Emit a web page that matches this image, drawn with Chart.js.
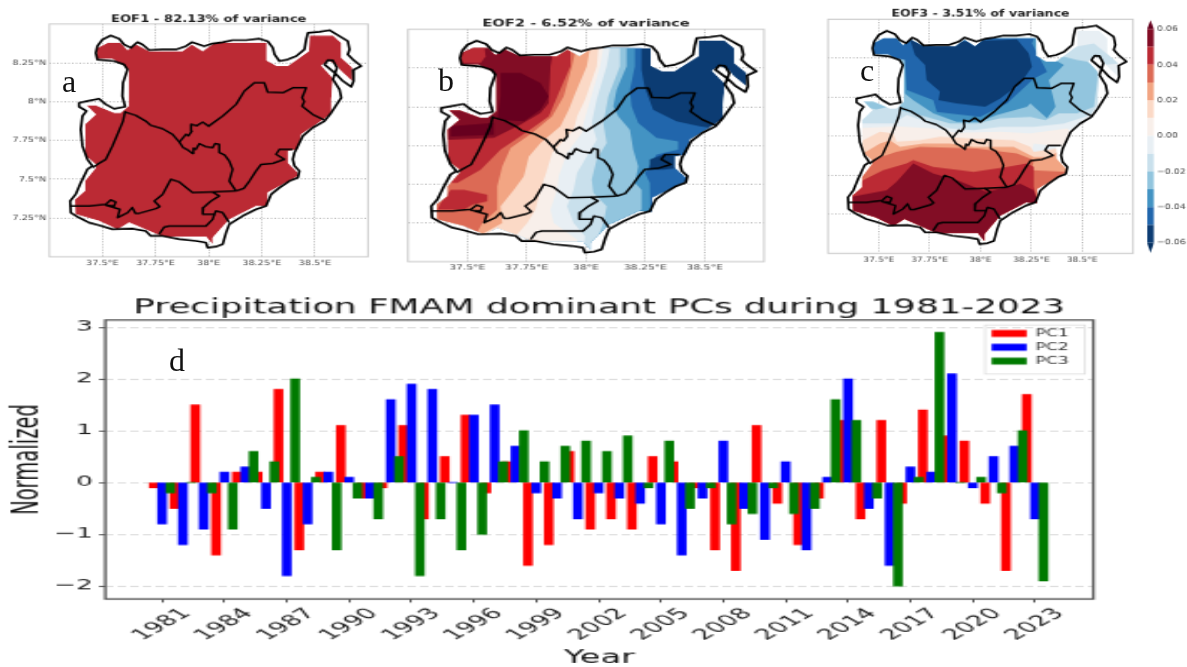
<!DOCTYPE html>
<html>
<head>
<meta charset="utf-8">
<title>EOF maps and PCs</title>
<script src="https://cdn.jsdelivr.net/npm/chart.js@4"></script>
<style>
  html, body { margin: 0; padding: 0; background: #fff; width: 1187px; height: 667px; overflow: hidden; }
  canvas { position: absolute; transform-origin: 0 0; filter: blur(0.3px); }
  .tag { position: absolute; font-family: "Liberation Serif", serif; font-size: 32px; line-height: 32px; color: #111; }
</style>
</head>
<body>
<canvas id="mapA"></canvas>
<canvas id="mapB"></canvas>
<canvas id="mapC"></canvas>
<canvas id="cbar"></canvas>
<canvas id="pcs"></canvas>
<div class="tag" style="left:62px;top:65px">a</div>
<div class="tag" style="left:438px;top:64px">b</div>
<div class="tag" style="left:860px;top:54px">c</div>
<div class="tag" style="left:169px;top:344px">d</div>
<script>
// PC time series
const years = [1981, 1982, 1983, 1984, 1985, 1986, 1987, 1988, 1989, 1990, 1991, 1992, 1993, 1994, 1995, 1996, 1997, 1998, 1999, 2000, 2001, 2002, 2003, 2004, 2005, 2006, 2007, 2008, 2009, 2010, 2011, 2012, 2013, 2014, 2015, 2016, 2017, 2018, 2019, 2020, 2021, 2022, 2023];
const pc1 = [-0.1, -0.5, 1.5, -1.4, 0.2, 0.2, 1.8, -1.3, 0.2, 1.1, -0.3, -0.1, 1.1, -0.7, 0.5, 1.3, -0.2, 0.4, -1.6, -1.2, 0.6, -0.9, -0.7, -0.9, 0.5, 0.4, -0.1, -1.3, -1.7, 1.1, -0.4, -1.2, -0.3, 1.2, -0.7, 1.2, -0.4, 1.4, 0.9, 0.8, -0.4, -1.7, 1.7];
const pc2 = [-0.8, -1.2, -0.9, 0.2, 0.3, -0.5, -1.8, -0.8, 0.2, 0.1, -0.3, 1.6, 1.9, 1.8, 0, 1.3, 1.5, 0.7, -0.2, -0.3, -0.7, -0.2, -0.3, -0.4, -0.8, -1.4, -0.3, 0.8, -0.5, -1.1, 0.4, -1.3, 0.1, 2.0, -0.5, -1.6, 0.3, 0.2, 2.1, -0.1, 0.5, 0.7, -0.7];
const pc3 = [-0.2, 0, -0.2, -0.9, 0.6, 0.4, 2.0, 0.1, -1.3, -0.3, -0.7, 0.5, -1.8, -0.7, -1.3, -1.0, 0.4, 1.0, 0.4, 0.7, 0.8, 0.6, 0.9, -0.1, 0.8, -0.5, -0.1, -0.8, -0.6, -0.1, -0.6, -0.5, 1.6, 1.2, -0.3, -2.0, 0.1, 2.9, 0, 0.1, -0.2, 1.0, -1.9];
const pcLabels = ["PC1", "PC2", "PC3"];
const pcColors = ["#ff0000", "#0000ff", "#007a00"];
const yearTicks = [1981, 1984, 1987, 1990, 1993, 1996, 1999, 2002, 2005, 2008, 2011, 2014, 2017, 2020, 2023];
const pcTicks = [-2, -1, 0, 1, 2, 3];

// map axes
const lonTicks = [37.5, 37.75, 38, 38.25, 38.5];
const latTicks = [7.25, 7.5, 7.75, 8, 8.25];

// colour bar
const cbarLevels = [-0.06, -0.05, -0.04, -0.03, -0.02, -0.01, 0, 0.01, 0.02, 0.03, 0.04, 0.05, 0.06];
const cbarTicks = [-0.06, -0.04, -0.02, 0, 0.02, 0.04, 0.06];
const bandColors = ["#0c3c73", "#2166ac", "#4393c3", "#92c5de", "#c9e0ec", "#e8eff4", "#f8efea", "#fbd9c6", "#f2a583", "#dc6a55", "#bb2a34", "#820d25"];
const deepRed = "#67001f";

// study area outline, lon/lat
const outline = [[37.476,8.357],[37.5,8.4],[37.539,8.426],[37.579,8.405],[37.602,8.368],[37.634,8.347],[37.665,8.383],[37.689,8.368],[37.72,8.332],[37.783,8.336],[37.846,8.336],[37.893,8.357],[37.921,8.383],[37.956,8.368],[37.979,8.357],[38.019,8.374],[38.066,8.383],[38.113,8.396],[38.176,8.396],[38.239,8.405],[38.278,8.389],[38.302,8.347],[38.31,8.304],[38.333,8.261],[38.372,8.271],[38.412,8.293],[38.451,8.336],[38.459,8.4],[38.467,8.443],[38.522,8.45],[38.569,8.46],[38.616,8.422],[38.655,8.389],[38.663,8.336],[38.655,8.304],[38.679,8.271],[38.718,8.229],[38.679,8.203],[38.682,8.132],[38.671,8.095],[38.632,8.132],[38.593,8.186],[38.545,8.239],[38.561,8.267],[38.585,8.265],[38.604,8.218],[38.585,8.143],[38.616,8.078],[38.624,8.025],[38.608,7.992],[38.577,7.928],[38.545,7.874],[38.49,7.832],[38.443,7.778],[38.42,7.714],[38.404,7.671],[38.396,7.628],[38.404,7.585],[38.427,7.553],[38.42,7.51],[38.38,7.488],[38.333,7.445],[38.294,7.402],[38.27,7.327],[38.223,7.306],[38.16,7.263],[38.097,7.209],[38.082,7.156],[38.066,7.08],[38.034,7.065],[37.995,7.059],[37.987,7.091],[37.94,7.102],[37.862,7.113],[37.783,7.134],[37.728,7.134],[37.704,7.166],[37.641,7.181],[37.547,7.177],[37.484,7.203],[37.437,7.22],[37.39,7.252],[37.351,7.284],[37.348,7.359],[37.374,7.402],[37.398,7.477],[37.429,7.563],[37.453,7.585],[37.429,7.628],[37.406,7.714],[37.398,7.821],[37.406,7.907],[37.425,7.939],[37.39,7.967],[37.39,7.992],[37.429,8.003],[37.484,8.018],[37.516,7.982],[37.555,7.954],[37.607,7.967],[37.594,8.035],[37.597,8.121],[37.618,8.207],[37.602,8.239],[37.555,8.261],[37.476,8.271],[37.469,8.314],[37.476,8.357]];

// area with data (contourf mask)
const dataMask = [[37.476,8.347],[37.524,8.379],[37.586,8.379],[37.618,8.332],[37.66,8.368],[37.72,8.325],[37.877,8.325],[37.921,8.368],[37.972,8.325],[38.027,8.379],[38.273,8.379],[38.273,8.265],[38.321,8.229],[38.372,8.229],[38.472,8.325],[38.475,8.426],[38.585,8.426],[38.624,8.379],[38.624,8.282],[38.676,8.218],[38.676,8.132],[38.619,8.203],[38.6,8.239],[38.561,8.265],[38.53,8.233],[38.585,8.149],[38.577,8.014],[38.577,7.928],[38.545,7.889],[38.436,7.789],[38.42,7.692],[38.373,7.681],[38.373,7.606],[38.42,7.542],[38.42,7.52],[38.278,7.413],[38.278,7.323],[38.223,7.327],[38.097,7.241],[38.019,7.123],[38.019,7.08],[37.987,7.13],[37.783,7.13],[37.626,7.22],[37.571,7.177],[37.484,7.231],[37.374,7.274],[37.371,7.37],[37.418,7.424],[37.418,7.488],[37.469,7.574],[37.469,7.595],[37.421,7.649],[37.418,7.853],[37.469,7.917],[37.425,7.975],[37.469,7.975],[37.555,7.928],[37.586,7.928],[37.623,7.971],[37.623,8.207],[37.594,8.239],[37.547,8.276],[37.476,8.276]];

// district borders
const borderWest = [[37.607,7.939],[37.597,7.874],[37.571,7.789],[37.547,7.714],[37.516,7.628],[37.476,7.595],[37.453,7.574]];
const borderCentre = [[37.607,7.932],[37.657,7.911],[37.704,7.874],[37.728,7.847],[37.783,7.825],[37.83,7.789],[37.862,7.739],[37.88,7.703],[37.9,7.69],[37.924,7.666],[37.928,7.7],[37.94,7.692],[37.956,7.729],[37.985,7.71],[38.019,7.703],[38.03,7.73],[38.05,7.724],[38.05,7.671],[38.075,7.655],[38.097,7.617],[38.113,7.563],[38.097,7.488],[38.129,7.424]];
const borderNorth = [[37.862,7.739],[37.893,7.789],[37.905,7.78],[37.921,7.81],[37.917,7.853],[37.945,7.845],[37.972,7.868],[38,7.842],[38.066,7.907],[38.129,7.982],[38.168,8.068],[38.215,8.121],[38.262,8.121],[38.278,8.061],[38.349,8.057],[38.396,8.089],[38.459,8.089],[38.44,8.025],[38.45,8.0],[38.44,7.971],[38.49,7.917],[38.545,7.881]];
const borderEast = [[38.129,7.424],[38.165,7.44],[38.192,7.488],[38.223,7.553],[38.247,7.595],[38.302,7.602],[38.357,7.628],[38.317,7.66],[38.333,7.692],[38.396,7.692]];
const borderSouth = [[37.348,7.327],[37.437,7.327],[37.516,7.338],[37.539,7.366],[37.563,7.353],[37.555,7.327],[37.516,7.332],[37.582,7.306],[37.571,7.252],[37.618,7.284],[37.641,7.317],[37.655,7.28],[37.673,7.28],[37.752,7.31],[37.77,7.323],[37.744,7.359],[37.783,7.402],[37.822,7.499],[37.862,7.482],[37.924,7.413],[38.019,7.417],[38.129,7.424]];
const borderSouthEast = [[38.019,7.417],[38.05,7.392],[38.011,7.359],[37.975,7.317],[37.972,7.274],[38.027,7.274],[38.034,7.295],[38.066,7.284],[38.097,7.22]];
const borderLower = [[37.767,7.145],[37.79,7.19],[37.814,7.198],[37.909,7.198],[37.987,7.198],[38.019,7.241],[38.027,7.274]];
const allBorders = [borderWest, borderCentre, borderNorth, borderEast, borderSouth, borderSouthEast, borderLower];

// EOF2 contour lines, north to south; each one is filled towards the west
const eof2N05 = [[38.234,8.5],[38.234,8.239],[38.248,8.121],[38.283,7.981],[38.381,7.906],[38.479,7.874],[38.633,7.842],[38.633,7.0]];
const eof2N04 = [[38.206,8.5],[38.206,8.261],[38.185,8.11],[38.192,8.003],[38.22,7.895],[38.297,7.799],[38.388,7.777],[38.388,7.723],[38.297,7.691],[38.248,7.573],[38.269,7.508],[38.272,7.293],[38.272,7.0]];
const eof2N03 = [[38.171,8.5],[38.171,8.261],[38.129,8.11],[38.115,8.003],[38.136,7.938],[38.185,7.852],[38.199,7.723],[38.22,7.616],[38.206,7.508],[38.234,7.465],[38.234,7.336],[38.143,7.25],[38.101,7.207],[38.073,7.143],[38.073,7.0]];
const eof2N02 = [[38.143,8.5],[38.143,8.261],[38.094,8.067],[38.073,7.895],[38.087,7.766],[38.045,7.659],[38.024,7.53],[38.031,7.444],[38.087,7.358],[38.073,7.25],[38.045,7.143],[38.045,7.0]];
const eof2N01 = [[38.115,8.5],[38.087,8.261],[38.045,8.046],[38.024,7.895],[38.045,7.788],[38.003,7.68],[37.962,7.573],[37.948,7.465],[37.92,7.358],[37.948,7.25],[37.996,7.164],[37.983,7.0]];
const eof2P00 = [[38.087,8.5],[38.059,8.261],[38.01,8.003],[37.99,7.895],[37.983,7.831],[37.92,7.702],[37.885,7.551],[37.878,7.465],[37.85,7.336],[37.864,7.25],[37.962,7.143],[37.976,7.0]];
const eof2P01 = [[38.059,8.5],[38.045,8.261],[37.996,8.046],[37.962,7.938],[37.948,7.852],[37.857,7.702],[37.836,7.594],[37.808,7.465],[37.787,7.336],[37.752,7.25],[37.703,7.164],[37.85,7.121],[37.85,7.0]];
const eof2P02 = [[38.031,8.5],[38.003,8.261],[37.955,8.089],[37.927,7.981],[37.892,7.874],[37.808,7.766],[37.759,7.68],[37.738,7.551],[37.696,7.465],[37.64,7.358],[37.647,7.25],[37.57,7.186],[37.5,7.0]];
const eof2P03 = [[37.976,8.5],[37.941,8.261],[37.906,8.067],[37.857,7.938],[37.773,7.831],[37.682,7.734],[37.647,7.616],[37.626,7.487],[37.626,7.336],[37.563,7.25],[37.472,7.0]];
const eof2P04 = [[37.934,8.5],[37.934,8.261],[37.885,8.089],[37.843,7.938],[37.745,7.831],[37.64,7.723],[37.556,7.594],[37.458,7.508],[37.36,7.508]];
const eof2P05 = [[37.878,8.5],[37.85,8.261],[37.843,8.024],[37.808,7.96],[37.724,7.885],[37.612,7.799],[37.43,7.788],[37.36,7.788]];
const eof2SouthWest = [[37.43,7.465],[37.486,7.465],[37.584,7.433],[37.584,7.39],[37.521,7.369],[37.486,7.336],[37.374,7.336],[37.388,7.379]];
const eof2NorthWest = [[37.472,8.411],[37.57,8.411],[37.577,8.325],[37.556,8.282],[37.472,8.282]];
const eof2Deep = [[37.64,8.218],[37.724,8.218],[37.808,8.153],[37.843,8.067],[37.808,7.981],[37.738,7.906],[37.626,7.917],[37.64,8.067]];
const eof2DeepWest = [[37.43,7.874],[37.612,7.895],[37.612,7.82],[37.43,7.809]];
const eof2Spot = [[38.269,7.659],[38.325,7.691],[38.388,7.68],[38.388,7.605],[38.325,7.594],[38.269,7.594]];

// EOF3 contours: blue lobes from the north, red ones from the south
const eof3N01 = [[37.373,7.832],[37.571,7.832],[37.637,7.886],[37.735,7.843],[37.85,7.8],[37.966,7.79],[38.097,7.811],[38.262,7.811],[38.41,7.832],[38.541,7.886],[38.599,8.004],[38.632,8.132],[38.599,8.207],[38.689,8.218],[38.64,8.261],[38.558,8.346],[38.475,8.325],[38.36,8.271],[38.262,8.411],[37.464,8.411],[37.464,8.196],[37.604,8.196],[37.604,7.982],[37.373,7.982]];
const eof3N02 = [[37.604,7.982],[37.604,7.918],[37.735,7.875],[37.85,7.832],[37.982,7.832],[38.097,7.865],[38.245,7.875],[38.319,7.854],[38.385,7.897],[38.475,7.897],[38.558,7.94],[38.574,8.111],[38.574,8.175],[38.525,8.229],[38.475,8.239],[38.41,8.261],[38.311,8.239],[38.262,8.411],[37.604,8.411]];
const eof3N02West = [[37.423,7.972],[37.488,7.972],[37.546,7.94],[37.488,7.922],[37.423,7.94]];
const eof3N03 = [[37.464,8.411],[37.464,8.271],[37.628,8.25],[37.628,8.025],[37.669,7.982],[37.768,7.897],[37.883,7.843],[37.99,7.843],[38.081,7.886],[38.229,7.94],[38.245,7.961],[38.327,7.865],[38.369,7.94],[38.336,8.111],[38.41,8.207],[38.336,8.261],[38.262,8.411]];
const eof3N04 = [[37.464,8.378],[37.472,8.282],[37.628,8.239],[37.637,8.047],[37.768,7.982],[37.785,7.907],[37.998,7.875],[38.13,7.961],[38.262,8.12],[38.327,8.164],[38.253,8.346],[38.262,8.378]];
const eof3N05 = [[37.653,8.372],[37.727,8.325],[37.916,8.357],[38.179,8.372],[38.237,8.282],[38.253,8.196],[38.196,8.089],[38.097,7.993],[38.023,7.94],[37.883,7.961],[37.793,7.982],[37.801,8.036],[37.735,8.111],[37.727,8.207],[37.678,8.271]];
const eof3P00 = [[37.357,7.8],[37.587,7.815],[37.768,7.8],[37.883,7.773],[38.097,7.779],[38.245,7.768],[38.426,7.8],[38.459,7.768],[38.41,7.683],[38.262,7.704],[38.245,7.618],[38.426,7.661],[38.508,7.0],[37.275,7.0]];
const eof3P01 = [[37.275,7.725],[37.423,7.725],[37.505,7.779],[37.571,7.768],[37.587,7.715],[37.702,7.725],[37.801,7.747],[37.966,7.736],[38.163,7.725],[38.245,7.683],[38.262,7.651],[38.377,7.672],[38.426,7.618],[38.508,7.0],[37.275,7.0]];
const eof3P02 = [[37.275,7.64],[37.423,7.64],[37.505,7.704],[37.554,7.725],[37.604,7.683],[37.719,7.704],[37.85,7.704],[37.966,7.683],[38.163,7.683],[38.262,7.618],[38.336,7.618],[38.393,7.661],[38.426,7.554],[38.508,7.0],[37.275,7.0]];
const eof3P03 = [[37.275,7.597],[37.464,7.597],[37.587,7.651],[37.702,7.683],[37.982,7.672],[38.179,7.64],[38.262,7.597],[38.253,7.533],[38.426,7.522],[38.508,7.0],[37.275,7.0]];
const eof3P04 = [[37.357,7.372],[37.423,7.469],[37.521,7.533],[37.637,7.576],[37.669,7.597],[37.768,7.554],[37.966,7.522],[38.13,7.554],[38.229,7.576],[38.262,7.554],[38.262,7.426],[38.278,7.34],[38.278,7.0],[37.357,7.0]];
const eof3P05 = [[37.357,7.361],[37.538,7.404],[37.587,7.458],[37.669,7.576],[37.768,7.511],[37.883,7.469],[38.031,7.394],[38.196,7.447],[38.262,7.404],[38.278,7.34],[38.278,7.0],[37.357,7.0]];

const lonRange = [37.25, 38.75];
const latRange = [7.0, 8.5];
const westClose = [[37.2, 7.0], [37.2, 8.5]];

// contour fills are clipped to the data mask; this has to run before the filler plugin
const maskClip = {
    id: "maskClip",
    beforeDatasetDraw(chart, args) {
        if (!chart.data.datasets[args.index].masked) {
            return;
        }
        const { ctx, scales } = chart;
        ctx.save();
        ctx.beginPath();
        dataMask.forEach(([lon, lat], i) => {
            const px = scales.x.getPixelForValue(lon);
            const py = scales.y.getPixelForValue(lat);
            if (i === 0) {
                ctx.moveTo(px, py);
            } else {
                ctx.lineTo(px, py);
            }
        });
        ctx.closePath();
        ctx.clip();
    },
    afterDatasetDraw(chart, args) {
        if (chart.data.datasets[args.index].masked) {
            chart.ctx.restore();
        }
    },
};
const framePlugin = {
    id: "frame",
    afterDatasetsDraw(chart, args, options) {
        if (!options.color) {
            return;
        }
        const { ctx, chartArea } = chart;
        ctx.save();
        ctx.strokeStyle = options.color;
        ctx.lineWidth = options.width;
        ctx.strokeRect(chartArea.left, chartArea.top, chartArea.right - chartArea.left, chartArea.bottom - chartArea.top);
        ctx.restore();
    },
};
const filler = Chart.registry.getPlugin("filler");
Chart.unregister(filler);
Chart.register(maskClip, filler, framePlugin);
Chart.defaults.animation = false;
Chart.defaults.font.family = '"DejaVu Sans", sans-serif';

// place a canvas so that its chart area lands on a box of the page, stretched like the original figure
function placeCanvas(id, box) {
    const el = document.getElementById(id);
    el.width = Math.round(box.w / box.fx);
    el.height = Math.round(box.h / box.fy);
    el.style.left = box.x + "px";
    el.style.top = box.y + "px";
    el.style.transform = `scale(${box.fx}, ${box.fy})`;
    const area = box.area;
    return {
        el,
        left: (area.l - box.x) / box.fx,
        right: el.width - (area.r - box.x) / box.fx,
        top: (area.t - box.y) / box.fy,
        bottom: el.height - (area.b - box.y) / box.fy,
    };
}

function toPoints(list) {
    return list.map(([x, y]) => ({ x, y }));
}

function polygon(list, color) {
    return { data: toPoints(list), showLine: true, pointRadius: 0, borderWidth: 0, backgroundColor: color, fill: "shape", masked: true };
}

function polyline(list, width) {
    return { data: toPoints(list), showLine: true, pointRadius: 0, borderWidth: width, borderColor: "#000", backgroundColor: "#000", fill: false, borderJoinStyle: "round" };
}

function drawMap(id, box, titleText, titleCenter, showLat, fields) {
    const place = placeCanvas(id, box);
    const titleSize = 8.8;
    const titlePadTop = (titleCenter - box.y) / box.fy - titleSize / 2;
    const datasets = fields
        .concat(allBorders.map((line) => polyline(line, 1.5)))
        .concat([polyline(outline, 1.7)]);
    datasets.forEach((ds, i) => {
        ds.order = datasets.length - i;
    });
    return new Chart(place.el, {
        type: "scatter",
        data: { datasets },
        options: {
            responsive: false,
            layout: { autoPadding: false, padding: { left: 0, right: place.right, top: 0, bottom: 0 } },
            plugins: {
                legend: { display: false },
                tooltip: { enabled: false },
                frame: { color: "#c8c8c8", width: 1 },
                title: {
                    display: true,
                    text: titleText,
                    fullSize: false,
                    color: "#222",
                    font: { size: titleSize, weight: "bold", lineHeight: 1 },
                    padding: { top: titlePadTop, bottom: place.top - titlePadTop - titleSize },
                },
            },
            scales: {
                x: {
                    type: "linear",
                    min: lonRange[0],
                    max: lonRange[1],
                    afterFit: (scale) => { scale.height = place.bottom; },
                    afterBuildTicks: (scale) => { scale.ticks = lonTicks.map((value) => ({ value })); },
                    grid: { color: "#b4b4b4", drawTicks: false },
                    border: { display: false, dash: [1, 1.5] },
                    ticks: { autoSkip: false, maxRotation: 0, minRotation: 0, padding: 2, color: "#444", font: { size: 6.5 }, callback: (v) => `${v}°E` },
                },
                y: {
                    type: "linear",
                    min: latRange[0],
                    max: latRange[1],
                    afterFit: (scale) => { scale.width = place.left; },
                    afterBuildTicks: (scale) => { scale.ticks = latTicks.map((value) => ({ value })); },
                    grid: { color: "#b4b4b4", drawTicks: false },
                    border: { display: false, dash: [1, 1.5] },
                    ticks: { display: showLat, padding: 2, color: "#444", font: { size: 6.5 }, callback: (v) => `${v}°N` },
                },
            },
        },
    });
}

function drawColorbar(box) {
    const place = placeCanvas("cbar", box);
    const datasets = bandColors.map((color, i) => ({
        data: toPoints([[0, cbarLevels[i]], [1, cbarLevels[i]], [1, cbarLevels[i + 1]], [0, cbarLevels[i + 1]]]),
        showLine: true, pointRadius: 0, borderWidth: 0, backgroundColor: color, fill: "shape",
    }));
    datasets.push({ data: toPoints([[0, 0.06], [1, 0.06], [0.5, 0.0651]]), showLine: true, pointRadius: 0, borderWidth: 0, backgroundColor: deepRed, fill: "shape" });
    datasets.push({ data: toPoints([[0, -0.06], [1, -0.06], [0.5, -0.0658]]), showLine: true, pointRadius: 0, borderWidth: 0, backgroundColor: "#053061", fill: "shape" });
    return new Chart(place.el, {
        type: "scatter",
        data: { datasets },
        options: {
            responsive: false,
            layout: { autoPadding: false, padding: { left: place.left, right: 0, top: place.top, bottom: place.bottom } },
            plugins: { legend: { display: false }, tooltip: { enabled: false } },
            scales: {
                x: { type: "linear", min: 0, max: 1, display: false },
                y: {
                    type: "linear",
                    position: "right",
                    min: -0.0658,
                    max: 0.0651,
                    afterFit: (scale) => { scale.width = place.right; },
                    afterBuildTicks: (scale) => { scale.ticks = cbarTicks.map((value) => ({ value })); },
                    grid: { display: false, drawTicks: false },
                    border: { display: false },
                    ticks: {
                        padding: 2,
                        color: "#444",
                        font: { size: 6.6 },
                        callback: (v) => v.toFixed(2).replace("-", "\u2212"),
                    },
                },
            },
        },
    });
}

function drawPcs(box) {
    const place = placeCanvas("pcs", box);
    const offsets = [-0.4, 0, 0.4];
    const titleSize = 17;
    const titlePadTop = (308 - box.y) / box.fy - titleSize / 2;
    const legendPlace = {
        id: "legendPlace",
        afterLayout(chart) {
            const legend = chart.legend;
            legend.left = (992 - box.x) / box.fx - 4;
            legend.top = (329 - box.y) / box.fy - 4;
            legend.right = legend.left + 48;
            legend.bottom = legend.top + 50;
        },
        beforeDatasetsDraw(chart) {
            const { ctx } = chart;
            ctx.save();
            ctx.strokeStyle = "#ddd";
            ctx.lineWidth = 0.8;
            ctx.strokeRect((985 - box.x) / box.fx, (325 - box.y) / box.fy, 100 / box.fx, 49 / box.fy);
            ctx.restore();
        },
    };
    return new Chart(place.el, {
        type: "bar",
        data: {
            datasets: [pc1, pc2, pc3].map((values, i) => ({
                label: pcLabels[i],
                data: values.map((y, j) => ({ x: years[j] + offsets[i], y })),
                backgroundColor: pcColors[i],
                barThickness: 3.96,
                grouped: false,
                order: 3 - i,
            })),
        },
        plugins: [legendPlace],
        options: {
            responsive: false,
            layout: { autoPadding: false, padding: { left: 0, right: place.right, top: 0, bottom: 0 } },
            plugins: {
                tooltip: { enabled: false },
                frame: { color: "#555", width: 1.3 },
                title: {
                    display: true,
                    text: "Precipitation FMAM dominant PCs during 1981-2023",
                    fullSize: false,
                    color: "#111",
                    font: { size: titleSize, weight: "normal", lineHeight: 1 },
                    padding: { top: titlePadTop, bottom: place.top - titlePadTop - titleSize },
                },
                legend: {
                    position: "chartArea",
                    align: "start",
                    fullSize: false,
                    labels: {
                        boxWidth: 16.7,
                        boxHeight: 6,
                        padding: 3.8,
                        color: "#333",
                        font: { size: 8.2 },
                        sort: (a, b) => a.datasetIndex - b.datasetIndex,
                    },
                },
            },
            scales: {
                x: {
                    type: "linear",
                    offset: false,
                    min: 1978.27,
                    max: 2025.8,
                    afterFit: (scale) => { scale.height = place.bottom; },
                    afterBuildTicks: (scale) => { scale.ticks = yearTicks.map((value) => ({ value })); },
                    grid: { offset: false, drawOnChartArea: false, drawTicks: true, tickLength: 3, tickColor: "#555" },
                    border: { display: false },
                    title: { display: true, text: "Year", color: "#111", font: { size: 16, lineHeight: 1 }, padding: { top: 0, bottom: (box.y + box.h - 658) / box.fy - 8 } },
                    ticks: {
                        autoSkip: false,
                        minRotation: 45,
                        maxRotation: 45,
                        labelOffset: 11.7,
                        padding: 2,
                        color: "#222",
                        font: { size: 13 },
                        callback: (v) => String(v),
                    },
                },
                y: {
                    type: "linear",
                    min: -2.25,
                    max: 3.14,
                    afterFit: (scale) => { scale.width = place.left; },
                    afterBuildTicks: (scale) => { scale.ticks = pcTicks.map((value) => ({ value })); },
                    grid: { color: "#dcdcdc", tickColor: "#555", tickLength: 3 },
                    border: { display: false, dash: [4, 2] },
                    title: { display: true, text: "Normalized", color: "#111", font: { size: 17, lineHeight: 1 }, padding: { top: 5, bottom: 0 } },
                    ticks: { padding: 3, color: "#222", font: { size: 12.5 }, callback: (v) => String(v).replace("-", "\u2212") },
                },
            },
        },
    });
}

const eof1Fill = [polygon(dataMask, bandColors[10])];
const eof2Fill = [polygon(dataMask, bandColors[0])]
    .concat([eof2N05, eof2N04, eof2N03, eof2N02, eof2N01, eof2P00, eof2P01, eof2P02, eof2P03, eof2P04, eof2P05].map((line, i) => polygon(line.concat(westClose), bandColors[i + 1])))
    .concat([polygon(eof2SouthWest, bandColors[10]), polygon(eof2NorthWest, bandColors[10]), polygon(eof2Deep, deepRed), polygon(eof2DeepWest, deepRed), polygon(eof2Spot, bandColors[0])]);
const eof3Fill = [polygon(dataMask, bandColors[5])]
    .concat([[eof3N01, 4], [eof3N02, 3], [eof3N02West, 3], [eof3N03, 2], [eof3N04, 1], [eof3N05, 0]].map(([list, band]) => polygon(list, bandColors[band])))
    .concat([eof3P00, eof3P01, eof3P02, eof3P03, eof3P04, eof3P05].map((list, i) => polygon(list, bandColors[i + 6])));

const mapHeight = 285;
drawMap("mapA", { x: 0, y: 0, w: 392, h: mapHeight, fx: 1.5, fy: 1.1, area: { l: 49.3, r: 368, t: 24, b: 256.7 } }, "EOF1 - 82.13% of variance", 19, true, eof1Fill);
drawMap("mapB", { x: 395, y: 0, w: 390, h: mapHeight, fx: 1.67, fy: 1.1, area: { l: 408, r: 764, t: 29.3, b: 261.7 } }, "EOF2 - 6.52% of variance", 24, false, eof2Fill);
drawMap("mapC", { x: 815, y: 0, w: 325, h: mapHeight, fx: 1.434, fy: 1.1, area: { l: 828, r: 1133, t: 19.3, b: 253.3 } }, "EOF3 - 3.51% of variance", 14, false, eof3Fill);
drawColorbar({ x: 1140, y: 0, w: 56, h: mapHeight, fx: 1.434, fy: 1.1, area: { l: 1147, r: 1154, t: 20, b: 253 } });
drawPcs({ x: 0, y: 288, w: 1187, h: 391, fx: 2.1, fy: 1.15, area: { l: 105.3, r: 1093.3, t: 320, b: 599 } });
</script>
</body>
</html>
